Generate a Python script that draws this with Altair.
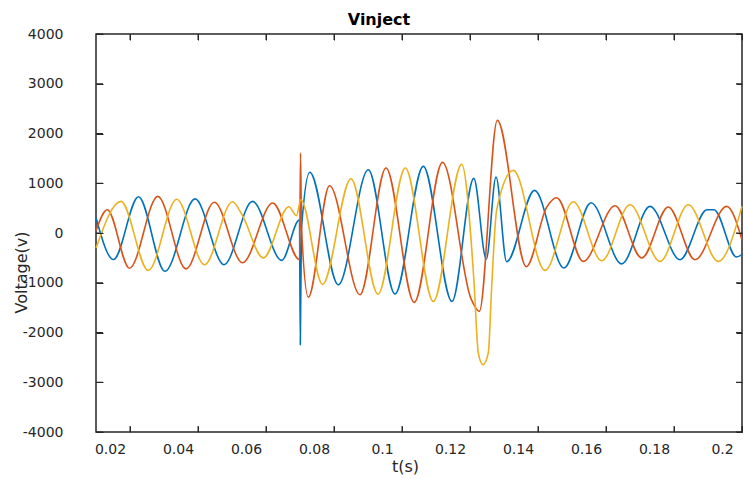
import altair as alt
import pandas as pd

# ---- data (time in s, voltage in V) ----
va_t = [0.0100, 0.01515, 0.0225, 0.03029, 0.03912, 0.04765, 0.05603, 0.06462, 0.06985, 0.07009,
        0.07041, 0.07288, 0.08126, 0.09009, 0.09794, 0.10626, 0.11471, 0.12112, 0.12479, 0.12765,
        0.13079, 0.13897, 0.14765, 0.15559, 0.16462, 0.17294, 0.18176, 0.18971, 0.19176, 0.19838, 0.2000]
va_v = [308, -533, 730, -772, 685, -637, 635, -551, 267, -2245,
        66, 1222, -1039, 1272, -1226, 1339, -1375, 1097, -523, 1126,
        -577, 856, -704, 609, -621, 535, -537, 468, 468, -482, -436]

vb_t = [0.0100, 0.01332, 0.01985, 0.02818, 0.03647, 0.04479, 0.05309, 0.06197, 0.06988, 0.07015,
        0.07044, 0.07244, 0.07868, 0.08765, 0.09529, 0.10359, 0.11191, 0.12029, 0.12274, 0.12803,
        0.13656, 0.14256, 0.14550, 0.15332, 0.16265, 0.17050, 0.17832, 0.18618, 0.19550, 0.2000]
vb_v = [46, 468, -708, 736, -722, 619, -597, 603, -537, 1608,
        106, -1290, 951, -1240, 1307, -1395, 1419, -1320, -1576, 2263,
        -677, 519, 710, -571, 549, -503, 523, -537, 535, -135]

vc_t = [0.0100, 0.01735, 0.02538, 0.03374, 0.04191, 0.05015, 0.05294, 0.05921, 0.06671, 0.06897,
        0.07024, 0.07662, 0.0850, 0.09294, 0.10097, 0.10921, 0.11756, 0.12118, 0.12244, 0.12382,
        0.12538, 0.12638, 0.12785, 0.13274, 0.14206, 0.15038, 0.15874, 0.16706, 0.17588, 0.18421,
        0.19303, 0.2000]
vc_v = [-302, 635, -752, 679, -637, 629, 368, -503, 529, 348,
        669, -1033, 1091, -1230, 1307, -1375, 1379, -979, -2412, -2647,
        -2412, -1073, 468, 1258, -752, 629, -557, 569, -571, 569,
        -571, 535]

series_names = ["Va", "Vb", "Vc"]
series_colors = ["#0072BD", "#D95319", "#EDB120"]
x_ticks = [0.02, 0.04, 0.06, 0.08, 0.1, 0.12, 0.14, 0.16, 0.18, 0.2]
y_ticks = [-4000, -3000, -2000, -1000, 0, 1000, 2000, 3000, 4000]

rows = []
for name, ts, vs in zip(series_names, [va_t, vb_t, vc_t], [va_v, vb_v, vc_v]):
    for i, (t, v) in enumerate(zip(ts, vs)):
        rows.append({"t": t, "v": v, "phase": name, "i": i})
df = pd.DataFrame(rows)

W, H = 646, 398
axc = "#262626"
font = "DejaVu Sans"

xscale = alt.Scale(domain=[0.01, 0.2], nice=False, zero=False)
yscale = alt.Scale(domain=[-4000, 4000], nice=False, zero=False)


def empty_axis(orient):
    return alt.Axis(orient=orient, labels=False, ticks=False, domain=False, grid=False, title=None)


lines = alt.Chart(df).mark_line(strokeWidth=1.6, interpolate="monotone").encode(
    x=alt.X("t:Q", scale=xscale,
            axis=alt.Axis(values=x_ticks, format="~g", title="t(s)", zindex=1,
                          offset=-6, tickSize=6, labelOffset=-20, labelFlush=False, labelPadding=10,
                          titleX=309, titleY=40, titleBaseline="middle")),
    y=alt.Y("v:Q", scale=yscale,
            axis=alt.Axis(values=y_ticks, format="d", title="Voltage(v)", zindex=1,
                          offset=-7, tickSize=7, labelPadding=33,
                          titleX=-82, titleY=238, titleBaseline="middle", titleAlign="center")),
    color=alt.Color("phase:N", scale=alt.Scale(domain=series_names, range=series_colors), legend=None),
    order="i:Q",
)

# invisible companion layer that carries the top and right axes
box_ticks = alt.Chart(df).mark_line(strokeOpacity=0).encode(
    x=alt.X("t:Q", scale=xscale,
            axis=alt.Axis(orient="top", values=x_ticks, labels=False, title=None, zindex=1,
                          offset=-6, tickSize=6)),
    y=alt.Y("v:Q", scale=yscale,
            axis=alt.Axis(orient="right", values=y_ticks, labels=False, title=None, zindex=1,
                          offset=-6, tickSize=6)),
    detail="phase:N",
)

# inward tick marks on all four edges, placed through the shared scales
xt = pd.DataFrame({"t": x_ticks})
yt = pd.DataFrame({"v": y_ticks})
tick_bottom = alt.Chart(xt).mark_rule(color=axc, strokeWidth=1).encode(
    x=alt.X("t:Q", scale=xscale, axis=empty_axis("bottom")), y=alt.value(H), y2=alt.value(H - 6))
tick_top = alt.Chart(xt).mark_rule(color=axc, strokeWidth=1).encode(
    x=alt.X("t:Q", scale=xscale, axis=empty_axis("top")), y=alt.value(0), y2=alt.value(6))
tick_left = alt.Chart(yt).mark_rule(color=axc, strokeWidth=1).encode(
    y=alt.Y("v:Q", scale=yscale, axis=empty_axis("left")), x=alt.value(0), x2=alt.value(7))
tick_right = alt.Chart(yt).mark_rule(color=axc, strokeWidth=1).encode(
    y=alt.Y("v:Q", scale=yscale, axis=empty_axis("right")), x=alt.value(W), x2=alt.value(W - 6))

chart = alt.layer(tick_bottom, tick_top, tick_left, tick_right, lines, box_ticks).resolve_axis(
    x="independent", y="independent"
).properties(
    width=W, height=H,
    title=alt.TitleParams("Vinject", font=font, fontSize=16, fontWeight="bold", color="#000000",
                          dx=-40, dy=9, offset=8),
    autosize=alt.AutoSizeParams(type="none"),
    padding={"left": 96, "top": 34, "right": 2, "bottom": 47},
).configure(
    locale={"number": {"decimal": ".", "thousands": "", "grouping": [3],
                       "currency": ["", ""], "minus": "-"}}
).configure_view(stroke=axc, strokeWidth=1.5).configure_axis(
    domain=False, grid=False, tickColor=axc, tickWidth=1,
    labelFont=font, labelFontSize=14, labelColor=axc,
    titleFont=font, titleFontSize=16, titleColor=axc, titleFontWeight="normal",
)

chart.save("out.html", embed_options={"renderer": "svg", "actions": False})
